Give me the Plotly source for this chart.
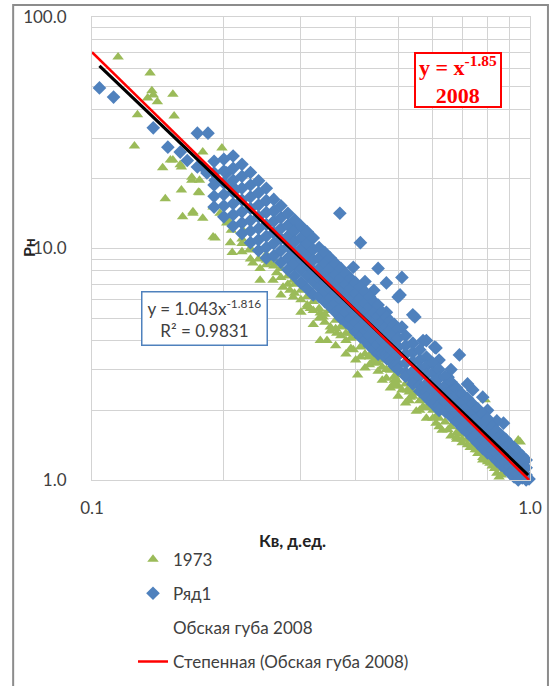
import plotly.graph_objects as go

# ---------------- data ----------------
# 1973 (green triangles)
green_x = [0.1147, 0.1357, 0.137, 0.138, 0.134, 0.141, 0.153, 0.127, 0.154, 0.125,
           0.145, 0.151, 0.159, 0.147, 0.16, 0.161, 0.17, 0.176, 0.179, 0.198,
           0.169, 0.176, 0.189, 0.191, 0.203,
           0.179, 0.153, 0.16, 0.169, 0.175, 0.17, 0.196, 0.204, 0.208, 0.189,
           0.207, 0.22, 0.233, 0.25, 0.209, 0.242,
           0.221, 0.229, 0.242, 0.259, 0.273, 0.288, 0.31, 0.332, 0.35, 0.264,
           0.288, 0.315, 0.255,
           0.315, 0.337, 0.332, 0.373, 0.404, 0.43, 0.46, 0.49, 0.525, 0.404,
           0.362, 0.35, 0.409, 0.388,
           0.497, 0.533, 0.57, 0.61, 0.63, 0.68, 0.74, 0.76, 0.78, 0.84,
           0.89, 0.79, 0.95, 0.48, 0.57, 0.68,
           0.35, 0.283, 0.315, 0.344, 0.395, 0.439, 0.49, 0.55, 0.61, 0.68,
           0.77, 0.81, 0.85, 0.94, 0.91,
           0.22, 0.22, 0.24, 0.26, 0.26, 0.28, 0.28, 0.30, 0.30, 0.32,
           0.32, 0.34, 0.34, 0.36, 0.36, 0.38, 0.38, 0.42, 0.42, 0.44,
           0.44, 0.46, 0.50, 0.50, 0.52, 0.54, 0.54, 0.58, 0.58, 0.62,
           0.62, 0.64, 0.66, 0.70, 0.70, 0.72, 0.75, 0.75, 0.80, 0.80,
           0.83, 0.87, 0.87, 0.90, 0.93, 0.96,
           0.23, 0.23, 0.25, 0.25, 0.27, 0.27, 0.29, 0.29, 0.31, 0.31,
           0.33, 0.33, 0.35, 0.37, 0.37, 0.39, 0.39, 0.41, 0.41, 0.43,
           0.43, 0.45, 0.45, 0.47, 0.47, 0.49, 0.49, 0.51, 0.53, 0.53,
           0.56, 0.56, 0.60, 0.60, 0.65, 0.68, 0.72, 0.78, 0.78, 0.82,
           0.86,
           0.36, 0.38, 0.40, 0.42, 0.46, 0.48, 0.50, 0.52, 0.55, 0.58,
           0.62, 0.66, 0.70, 0.73, 0.76, 0.80, 0.83, 0.30, 0.27, 0.32]
green_y = [67.2, 57.3, 48.0, 46.0, 44.7, 43.0, 46.4, 37.8, 37.4, 27.7,
           22.3, 24.1, 23.0, 16.4, 17.9, 13.7, 14.4, 17.4, 13.5, 27.2,
           20.3, 19.7, 15.1, 11.1, 12.9,
           26.1, 24.1, 22.5, 19.7, 17.5, 14.2, 14.2, 13.3, 12.0, 11.2,
           10.6, 9.67, 8.66, 8.9, 9.6, 8.2,
           12.0, 9.85, 7.3, 7.3, 6.8, 6.18, 5.6, 5.26, 4.58, 7.85,
           7.3, 6.6, 8.66,
           6.4, 5.06, 4.0, 4.58, 4.15, 3.4, 3.08, 2.7, 2.45, 2.84,
           4.3, 5.4, 5.06, 4.3,
           2.7, 2.28, 2.07, 1.87, 1.64, 1.53, 1.44, 1.35, 1.22, 1.07,
           1.07, 2.22, 1.46, 2.98, 2.52, 1.76,
           5.5, 6.6, 5.5, 4.0, 3.65, 3.2, 2.62, 2.37, 1.76, 1.6,
           1.35, 1.18, 1.03, 1.49, 1.08,
           11.0, 10.5, 9.0, 8.4, 9.0, 7.6, 7.0, 6.6, 6.0, 5.9,
           5.4, 5.2, 4.8, 4.9, 4.5, 4.3, 4.0, 3.8, 3.5, 3.55,
           3.3, 3.3, 2.85, 2.55, 2.6, 2.45, 2.3, 2.2, 2.05, 1.95,
           1.85, 1.78, 1.7, 1.58, 1.5, 1.5, 1.42, 1.35, 1.3, 1.22,
           1.18, 1.13, 1.08, 1.1, 1.05, 1.0,
           10.0, 9.0, 8.5, 9.4, 7.5, 8.2, 6.4, 7.0, 5.7, 6.2,
           5.0, 5.5, 4.4, 4.2, 4.6, 3.7, 4.1, 3.4, 3.75, 3.15,
           3.45, 2.95, 3.2, 2.75, 3.0, 2.55, 2.8, 2.45, 2.2, 2.4,
           2.0, 2.2, 1.85, 2.0, 1.65, 1.5, 1.42, 1.25, 1.3, 1.15,
           1.05,
           3.8, 3.5, 3.3, 3.05, 2.7, 2.5, 2.3, 2.15, 1.98, 1.85,
           1.7, 1.55, 1.45, 1.38, 1.3, 1.2, 1.12, 5.3, 6.3, 4.7]

# Ряд1 (blue diamonds): scattered points
blue_sparse_x = [0.104, 0.112, 0.138, 0.149, 0.159, 0.174, 0.184, 0.165, 0.174, 0.179,
                 0.183, 0.191, 0.21, 0.203,
                 0.368, 0.41, 0.45, 0.47, 0.505, 0.51, 0.50, 0.546, 0.497, 0.606,
                 0.57, 0.69, 0.65, 0.74, 0.78, 0.87, 0.395,
                 0.54, 0.58, 0.61, 0.51, 0.47, 0.44, 0.42, 0.62, 0.66, 0.72,
                 0.80, 0.84]
blue_sparse_y = [49.4, 45.1, 33.2, 27.4, 26.1, 31.5, 31.5, 24.0, 22.5, 22.5,
                 21.2, 19.7, 18.4, 21.2,
                 14.2, 10.6, 8.2, 7.1, 6.3, 7.5, 6.18, 5.06, 4.44, 3.75,
                 4.0, 3.47, 2.78, 2.45, 2.28, 1.76, 8.3,
                 5.17, 4.0, 3.72, 4.58, 5.3, 6.6, 7.2, 3.3, 3.0, 2.6,
                 2.0, 1.8]
# Ряд1 dense band: Кв value and the Рн values read at it
blue_band_x = [0.19, 0.20, 0.21, 0.22, 0.23, 0.24, 0.25,
               0.26, 0.27, 0.28, 0.29, 0.30, 0.31, 0.32,
               0.33, 0.34, 0.35, 0.36, 0.37, 0.38, 0.39, 0.40, 0.41, 0.42,
               0.43, 0.44, 0.45,
               0.46, 0.47, 0.48, 0.49, 0.50, 0.52, 0.54, 0.56, 0.58, 0.60, 0.62,
               0.64, 0.66, 0.68, 0.70, 0.72, 0.74, 0.76, 0.78, 0.80,
               0.82, 0.84, 0.86, 0.88, 0.90, 0.92, 0.94, 0.96, 0.98, 0.995]
blue_band_y = [[23.8, 21.2, 18.8, 16.8, 15.1],
               [24.3, 21.6, 19.2, 17.1, 15.3, 13.7],
               [25.1, 22.2, 19.7, 17.5, 15.6, 14.0, 12.5],
               [23.1, 20.5, 18.2, 16.2, 14.4, 12.9, 11.6],
               [21.3, 18.8, 16.7, 14.9, 13.2, 11.9, 10.6],
               [19.6, 17.4, 15.4, 13.7, 12.2, 10.9, 9.8],
               [18.2, 16.1, 14.3, 12.7, 11.3, 10.1, 9.1],
               [16.3, 14.5, 13.1, 11.7, 10.5, 9.3],
               [15.3, 13.6, 12.2, 11.0, 9.8, 8.7],
               [14.2, 12.6, 11.3, 10.2, 9.1, 8.1],
               [13.3, 11.9, 10.7, 9.6, 8.6, 7.6],
               [12.5, 11.1, 10.0, 9.0, 8.1, 7.1],
               [11.8, 10.5, 9.4, 8.5, 7.6, 6.7],
               [11.1, 9.9, 8.9, 8.0, 7.2, 6.3],
               [10.1, 9.1, 8.2, 7.5, 6.8, 6.2],
               [9.6, 8.6, 7.8, 7.1, 6.5, 5.9],
               [9.1, 8.2, 7.4, 6.7, 6.1, 5.6],
               [8.6, 7.7, 7.0, 6.4, 5.8, 5.3],
               [8.2, 7.4, 6.7, 6.0, 5.5, 5.0],
               [7.8, 7.0, 6.3, 5.75, 5.3, 4.8],
               [7.4, 6.7, 6.05, 5.5, 5.0, 4.6],
               [7.1, 6.4, 5.8, 5.2, 4.8, 4.35],
               [6.8, 6.1, 5.5, 5.0, 4.6, 4.15],
               [6.5, 5.8, 5.3, 4.8, 4.4, 4.0],
               [6.2, 5.6, 5.05, 4.55, 4.2, 3.8],
               [5.9, 5.3, 4.8, 4.4, 4.0, 3.65],
               [5.7, 5.1, 4.65, 4.2, 3.85, 3.5],
               [5.3, 4.8, 4.4, 4.0, 3.65, 3.5],
               [5.05, 4.6, 4.2, 3.85, 3.5, 3.35],
               [4.85, 4.45, 4.05, 3.7, 3.4, 3.25],
               [4.7, 4.25, 3.9, 3.55, 3.25, 3.1],
               [4.5, 4.1, 3.75, 3.45, 3.15, 3.0],
               [4.2, 3.8, 3.5, 3.2, 2.9, 2.8],
               [3.9, 3.55, 3.25, 2.95, 2.7, 2.6],
               [3.65, 3.3, 3.05, 2.8, 2.55, 2.42],
               [3.4, 3.1, 2.85, 2.6, 2.4, 2.27],
               [3.2, 2.9, 2.65, 2.45, 2.25, 2.13],
               [3.0, 2.75, 2.5, 2.3, 2.1, 2.0],
               [2.8, 2.55, 2.35, 2.17, 1.98],
               [2.65, 2.42, 2.22, 2.05, 1.88],
               [2.5, 2.28, 2.1, 1.94, 1.78],
               [2.35, 2.16, 1.99, 1.83, 1.68],
               [2.25, 2.06, 1.9, 1.75, 1.6],
               [2.13, 1.96, 1.8, 1.66, 1.52],
               [2.03, 1.86, 1.71, 1.58, 1.44],
               [1.93, 1.77, 1.63, 1.5, 1.37],
               [1.84, 1.69, 1.56, 1.43, 1.31],
               [1.7, 1.57, 1.45, 1.35, 1.27],
               [1.63, 1.5, 1.39, 1.3, 1.21],
               [1.56, 1.44, 1.33, 1.24, 1.16],
               [1.5, 1.38, 1.28, 1.19, 1.12],
               [1.43, 1.32, 1.23, 1.14, 1.07],
               [1.38, 1.27, 1.18, 1.1, 1.03],
               [1.32, 1.22, 1.13, 1.05, 1.0],
               [1.27, 1.17, 1.09, 1.02],
               [1.22, 1.13, 1.05, 1.0],
               [1.01, 0.985]]

# Обская губа 2008 (black line) and its power trendline (red)
ob_x = [0.104, 0.99]
ob_y = [61.5, 1.05]
trend_x = [0.1, 0.995]
trend_y = [70.5, 1.0]

x_ticks = [0.1, 0.2, 0.3, 0.4, 0.5, 0.6, 0.7, 0.8, 0.9, 1.0]
x_ticktext = ["0.1", "", "", "", "", "", "", "", "", "1.0"]
y_ticks = [1, 2, 3, 4, 5, 6, 7, 8, 9, 10, 20, 30, 40, 50, 60, 70, 80, 90, 100]
y_ticktext = ["1.0", "", "", "", "", "", "", "", "", "10.0",
              "", "", "", "", "", "", "", "", "100.0"]

# --------------- build ---------------
blue_x = list(blue_sparse_x)
blue_y = list(blue_sparse_y)
for bx, ys in zip(blue_band_x, blue_band_y):
    for by in ys:
        blue_x.append(bx)
        blue_y.append(by)

GREEN = "#9bbb59"
BLUE = "#4f81bd"
GRID = "#d3d3d3"
TXT = "#404040"
FONT = "Lato, 'Open Sans', sans-serif"

fig = go.Figure()
fig.add_trace(go.Scatter(
    x=green_x, y=green_y, mode="markers", name="1973", legendgroup="g1",
    marker=dict(symbol="triangle-up", size=10, color=GREEN), cliponaxis=False))
fig.add_trace(go.Scatter(
    x=blue_x, y=blue_y, mode="markers", name="Ряд1", legendgroup="g2",
    marker=dict(symbol="diamond", size=10.5, color=BLUE), cliponaxis=False))
fig.add_trace(go.Scatter(
    x=ob_x, y=ob_y, mode="lines", name="Обская губа 2008", legendgroup="g3",
    showlegend=False, line=dict(color="black", width=3.2)))
fig.add_trace(go.Scatter(
    x=[None], y=[None], mode="lines", name="Обская губа 2008", legendgroup="g3",
    line=dict(color="rgba(0,0,0,0)", width=3)))
fig.add_trace(go.Scatter(
    x=trend_x, y=trend_y, mode="lines", name="Степенная (Обская губа 2008)",
    legendgroup="g4", line=dict(color="#ff0000", width=2.5)))

axis_common = dict(
    type="log", showgrid=True, gridcolor=GRID, gridwidth=1,
    showline=True, linecolor=GRID, linewidth=1, mirror=True,
    zeroline=False,
    tickfont=dict(family=FONT, size=17, color=TXT),
)
fig.update_xaxes(range=[-1, 0], tickmode="array", tickvals=x_ticks,
                 ticktext=x_ticktext, ticks="outside", ticklen=13,
                 tickcolor="rgba(0,0,0,0)", **axis_common)
fig.update_yaxes(range=[0, 2], tickmode="array", tickvals=y_ticks,
                 ticktext=y_ticktext, ticks="outside", ticklen=21,
                 tickcolor="rgba(0,0,0,0)", **axis_common)

fig.update_layout(
    width=557, height=686, autosize=False,
    margin=dict(l=92, r=27, t=17, b=206, autoexpand=False),
    paper_bgcolor="white", plot_bgcolor="white",
    font=dict(family=FONT, size=17, color=TXT),
    showlegend=True,
    legend=dict(x=0.0936, xanchor="left", y=-0.133, yanchor="top",
                traceorder="grouped", tracegroupgap=9,
                font=dict(family=FONT, size=17, color=TXT),
                bgcolor="rgba(0,0,0,0)"),
    annotations=[
        dict(text="<b>Рн</b>", xref="paper", yref="paper", x=-0.146, y=0.501,
             xanchor="center", yanchor="middle",
             textangle=-90, showarrow=False,
             font=dict(family=FONT, size=16, color="#222")),
        dict(text="<b>Кв, д.ед.</b>", xref="paper", yref="paper", x=0.457, y=-0.1296,
             xanchor="center", yanchor="middle",
             showarrow=False, font=dict(family=FONT, size=17, color="#222")),
        dict(text="y = 1.043x<sup>-1.816</sup><br>R² = 0.9831",
             xref="paper", yref="paper", x=0.257, y=0.348,
             xanchor="center", yanchor="middle", showarrow=False,
             font=dict(family=FONT, size=17, color=TXT),
             bordercolor=BLUE, borderwidth=1.5, borderpad=3, bgcolor="white",
             width=118, height=46),
        dict(text="<b>y = x<sup>-1.85</sup></b><br><b>2008</b>",
             xref="paper", yref="paper", x=0.836, y=0.864,
             xanchor="center", yanchor="middle", showarrow=False,
             font=dict(family="Liberation Serif", size=22, color="#ff0000"),
             bordercolor="#ff0000", borderwidth=2, borderpad=0, bgcolor="white",
             width=84, height=52),
    ],
    shapes=[
        dict(type="rect", xref="paper", yref="paper",
             x0=-0.180, x1=1.041, y0=-0.47, y1=1.026,
             line=dict(color="#8c8c8c", width=2), fillcolor="rgba(0,0,0,0)",
             layer="below"),
    ],
)

fig.write_html("out.html")
